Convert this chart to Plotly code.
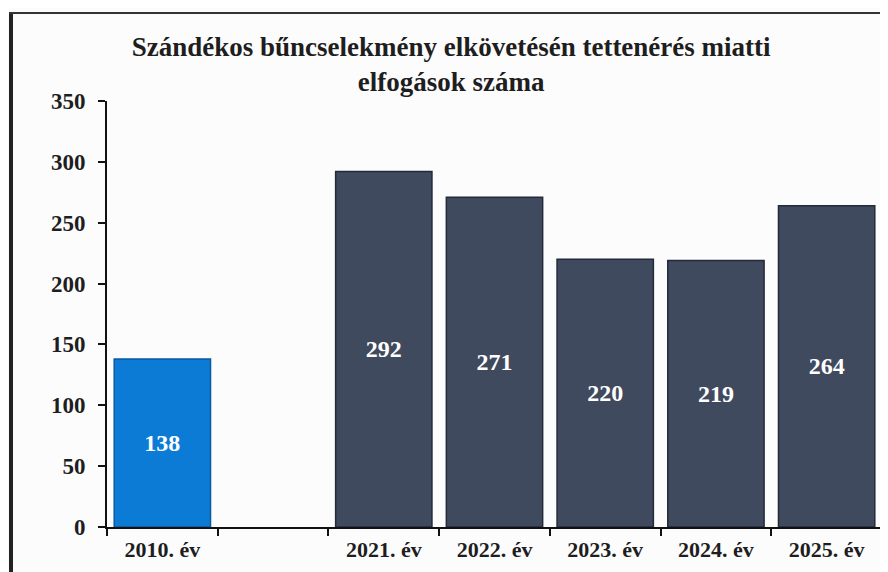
import plotly.graph_objects as go

categories = ["2010. év", " ", "2021. év", "2022. év", "2023. év", "2024. év", "2025. év"]
values = [138, None, 292, 271, 220, 219, 264]
bar_colors = ["#0b7bd6", "#3f4a5e", "#3f4a5e", "#3f4a5e", "#3f4a5e", "#3f4a5e", "#3f4a5e"]
edge_colors = ["#0a5aa0", "#232b3a", "#232b3a", "#232b3a", "#232b3a", "#232b3a", "#232b3a"]
labels = ["" if v is None else str(v) for v in values]
title_text = "<b>Szándékos bűncselekmény elkövetésén tettenérés miatti<br>elfogások száma</b>"
yticks = [0, 50, 100, 150, 200, 250, 300, 350]

font_family = "Liberation Serif, Times New Roman, serif"

# page body has an 8px offset; margins chosen so the plot area lands at
# x 107..882, y 101..527 in the 888x572 window
W, H = 888, 572
L, R, T, B = 99, 14, 93, 53
PW, PH = W - L - R, H - T - B

fig = go.Figure()
fig.add_trace(go.Bar(
    x=categories,
    y=values,
    marker=dict(color=bar_colors, line=dict(color=edge_colors, width=1.5)),
    text=labels,
    textposition="inside",
    insidetextanchor="middle",
    textangle=0,
    textfont=dict(family=font_family, size=24, color="white"),
    texttemplate="<b>%{text}</b>",
    width=0.87,
    hoverinfo="skip",
))

fig.update_layout(
    width=W, height=H,
    paper_bgcolor="#fcfcfd",
    plot_bgcolor="#fcfcfd",
    margin=dict(l=L, r=R, t=T, b=B),
    showlegend=False,
    title=dict(
        text=title_text,
        x=0.499, xanchor="center",
        y=1 - 48 / H, yanchor="top",
        font=dict(family=font_family, size=27, color="#1e1e1e"),
    ),
    xaxis=dict(
        type="category",
        categoryorder="array", categoryarray=categories,
        tickson="boundaries",
        ticks="outside", ticklen=7, tickwidth=2, tickcolor="#111",
        showline=True, linecolor="#111", linewidth=2,
        showgrid=False,
        tickfont=dict(family=font_family, size=22, color="#1e1e1e"),
        tickprefix="<b>", ticksuffix="</b>",
        ticklabelstandoff=2,
    ),
    yaxis=dict(
        range=[0, 350],
        tickvals=yticks,
        ticktext=[f"<b>{t}</b>" for t in yticks],
        ticks="outside", ticklen=7, tickwidth=2, tickcolor="#111",
        showline=True, linecolor="#111", linewidth=2,
        showgrid=False, zeroline=False,
        tickfont=dict(family=font_family, size=23, color="#1e1e1e"),
        ticklabelstandoff=8,
    ),
    shapes=[
        dict(type="line", xref="paper", yref="paper",
             x0=(3 - L) / PW, x1=(3 - L) / PW,
             y0=1 + (T - 5) / PH, y1=-B / PH,
             line=dict(color="#222", width=4)),
        dict(type="line", xref="paper", yref="paper",
             x0=(1 - L) / PW, x1=1 + R / PW,
             y0=1 + (T - 5) / PH, y1=1 + (T - 5) / PH,
             line=dict(color="#333", width=2)),
    ],
)

fig.write_html("out.html")
